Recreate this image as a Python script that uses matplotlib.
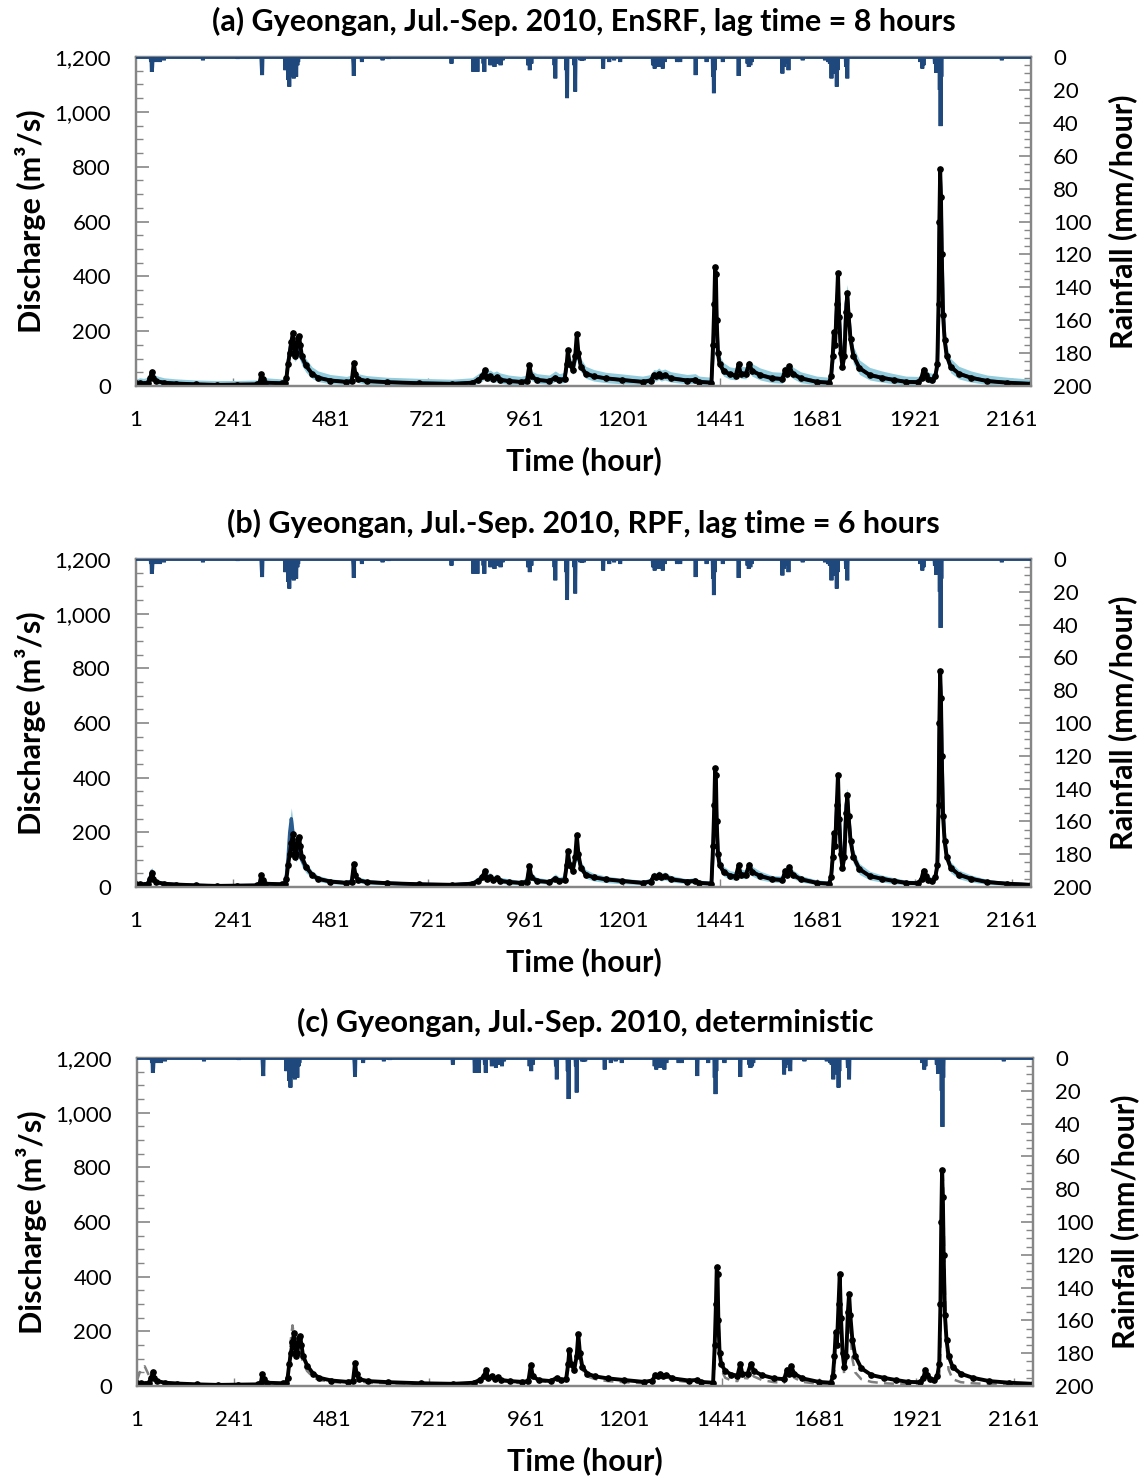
import numpy as np
import matplotlib
matplotlib.use("Agg")
import matplotlib.pyplot as plt
from matplotlib.ticker import MultipleLocator, FuncFormatter

plt.rcParams['font.family'] = ['Lato', 'DejaVu Sans']

# ---------------------------------------------------------------- data
n_hours = 2208
xticks = [1, 241, 481, 721, 961, 1201, 1441, 1681, 1921, 2161]

# hourly rainfall (mm/hour); hours not listed had no rain
rain_hours = [38, 40, 41, 45, 50, 55, 60, 70, 166, 252, 311, 312,
              369, 372, 376, 379, 381, 384, 387, 390, 393, 396, 399, 401,
              537, 538, 558, 609, 624, 779, 833, 836, 840, 843, 858, 860,
              875, 880, 885, 890, 895, 900, 905, 968, 972, 976, 1033, 1035,
              1062, 1064, 1082, 1084, 1097, 1101, 1105, 1153, 1168, 1180, 1195,
              1276, 1280, 1285, 1290, 1295, 1300, 1305, 1335, 1343, 1381, 1408,
              1424, 1426, 1428, 1448, 1487, 1509, 1512, 1516, 1519,
              1595, 1598, 1606, 1610, 1645, 1700, 1708, 1712, 1716, 1720,
              1726, 1729, 1731, 1752, 1755, 1935, 1940, 1943, 1971, 1974,
              1983, 1985, 1987, 2136]
rain_mm = [3, 9, 6, 2, 3, 2, 3, 2, 2, 1, 5, 11,
           8, 5, 14, 18, 10, 12, 6, 13, 9, 12, 5, 3,
           4, 11.5, 3, 2, 1, 4, 9, 9, 7, 9, 4, 9,
           5, 3, 6, 4, 3, 5, 2, 5, 8, 4, 5, 13,
           8, 25, 5, 21, 2, 2, 2, 7, 3, 2, 3,
           5, 7, 4, 6, 3, 7, 3, 3, 3, 11, 3,
           12, 22, 8, 3, 11.5, 4, 6, 5, 3,
           10, 6, 4, 8, 2, 2, 3, 4, 13, 5,
           10, 18, 8, 6, 13, 3, 7, 5, 4, 9.5,
           20, 42, 12, 2]

# discharge (m3/s) at selected hours
hours = [1, 10, 20, 30, 36, 40, 44, 50, 70, 100, 150, 200, 250, 300, 306, 310,
         314, 320, 360, 368, 372, 376, 380, 384, 388, 392, 396, 400, 403, 406,
         410, 420, 435, 450, 480, 520, 533, 538, 542, 548, 570, 620, 700, 780,
         830, 845, 855, 861, 866, 875, 882, 890, 898, 920, 950, 965, 971, 976,
         990, 1020, 1035, 1045, 1058, 1063, 1066, 1070, 1078, 1084, 1088, 1092,
         1098, 1110, 1130, 1160, 1200, 1250, 1270, 1278, 1284, 1290, 1296, 1305,
         1320, 1360, 1380, 1390, 1420, 1424, 1427, 1429, 1431, 1433, 1436, 1440,
         1450, 1465, 1480, 1487, 1492, 1505, 1513, 1520, 1540, 1570, 1595, 1602,
         1606, 1612, 1620, 1640, 1680, 1710, 1715, 1719, 1722, 1725, 1729, 1732,
         1735, 1739, 1743, 1748, 1752, 1755, 1758, 1763, 1770, 1785, 1810, 1840,
         1870, 1900, 1930, 1938, 1943, 1948, 1955, 1965, 1972, 1977, 1980, 1982,
         1984, 1986, 1988, 1991, 1995, 2000, 2010, 2030, 2060, 2100, 2150, 2208]

observed = [12, 10, 9, 12, 30, 52, 30, 18, 12, 9, 6, 4, 5, 6, 12, 44,
            25, 12, 10, 12, 30, 80, 120, 160, 195, 110, 120, 175, 182, 150,
            110, 75, 45, 30, 20, 15, 18, 83, 45, 25, 18, 14, 10, 8,
            12, 22, 35, 58, 30, 35, 25, 32, 22, 18, 15, 18, 77, 35,
            22, 18, 30, 22, 25, 80, 131, 80, 60, 110, 190, 120,
            70, 45, 35, 28, 22, 15, 20, 40, 35, 45, 35, 40,
            28, 20, 22, 15, 12, 150, 300, 434, 410, 240, 120, 80,
            55, 42, 38, 80, 45, 45, 82, 55, 40, 28, 25, 60,
            45, 73, 45, 28, 15, 12, 35, 110, 198, 150, 300, 411,
            250, 120, 70, 110, 270, 338, 260, 170, 110, 65, 40, 30,
            22, 15, 14, 30, 60, 40, 25, 22, 35, 80, 300, 600,
            791, 690, 480, 260, 168, 110, 70, 45, 30, 18, 12, 8]

ensrf_mean = [12, 11, 10, 12, 28, 45, 30, 18, 13, 9, 6, 4, 5, 6, 12, 36,
              24, 13, 10, 14, 35, 85, 130, 165, 150, 120, 125, 140, 135, 120,
              100, 72, 45, 32, 21, 15, 20, 60, 42, 26, 18, 14, 10, 8,
              12, 24, 35, 48, 35, 36, 28, 32, 25, 19, 15, 20, 55, 36,
              23, 18, 32, 24, 28, 70, 100, 85, 62, 95, 130, 110,
              75, 48, 36, 28, 22, 16, 22, 38, 36, 42, 36, 40,
              30, 21, 24, 16, 13, 120, 270, 362, 340, 230, 130, 85,
              58, 44, 40, 65, 48, 46, 70, 58, 42, 30, 27, 52,
              46, 62, 48, 30, 16, 13, 30, 90, 160, 170, 290, 362,
              260, 140, 85, 150, 300, 330, 270, 175, 112, 66, 42, 31,
              23, 16, 15, 28, 50, 40, 28, 24, 34, 70, 250, 540,
              766, 700, 520, 300, 180, 115, 72, 46, 31, 19, 12, 8]
ensrf_low = [5, 3, 2, 4, 15, 30, 18, 8, 4, 2, 1, 0, 0, 1, 4, 22,
             12, 4, 2, 4, 18, 60, 100, 130, 115, 90, 95, 110, 105, 92,
             75, 50, 28, 16, 8, 5, 8, 40, 25, 12, 6, 4, 2, 1,
             3, 10, 18, 30, 18, 18, 12, 15, 10, 6, 4, 8, 36, 20,
             10, 6, 16, 10, 12, 50, 78, 62, 42, 72, 100, 85,
             52, 28, 18, 12, 8, 5, 8, 20, 18, 24, 18, 22,
             14, 8, 10, 5, 4, 90, 230, 320, 300, 195, 100, 60,
             36, 25, 22, 45, 28, 26, 50, 36, 22, 12, 10, 32,
             28, 42, 28, 12, 4, 3, 14, 65, 125, 135, 250, 320,
             220, 105, 55, 115, 260, 290, 232, 140, 82, 42, 22, 14,
             8, 4, 4, 14, 32, 24, 12, 10, 18, 48, 210, 490,
             720, 655, 475, 260, 145, 85, 48, 26, 14, 6, 3, 1]
ensrf_high = [25, 30, 28, 32, 45, 60, 48, 38, 30, 26, 22, 20, 20, 22, 30, 50,
              40, 30, 26, 30, 55, 110, 160, 190, 180, 150, 155, 170, 165, 150,
              128, 100, 70, 55, 42, 35, 40, 78, 60, 45, 38, 32, 28, 25,
              30, 45, 55, 68, 55, 58, 50, 55, 48, 40, 35, 40, 75, 55,
              45, 40, 55, 45, 50, 95, 125, 110, 85, 120, 160, 138,
              100, 72, 60, 50, 44, 36, 42, 60, 58, 66, 58, 62,
              52, 42, 45, 36, 32, 150, 310, 400, 380, 265, 160, 110,
              85, 70, 66, 90, 72, 70, 95, 82, 66, 52, 50, 75,
              68, 85, 70, 52, 36, 32, 52, 118, 195, 205, 330, 400,
              300, 175, 115, 185, 340, 370, 308, 210, 145, 95, 68, 55,
              45, 36, 35, 50, 72, 62, 50, 46, 58, 95, 290, 590,
              810, 745, 565, 340, 215, 148, 100, 72, 55, 40, 32, 25]

rpf_mean = [12, 10, 9, 14, 35, 58, 35, 18, 12, 9, 6, 4, 5, 6, 14, 40,
            26, 12, 10, 15, 45, 110, 200, 250, 200, 130, 120, 145, 135, 118,
            98, 70, 45, 30, 20, 15, 22, 70, 45, 26, 18, 14, 10, 8,
            13, 25, 38, 55, 36, 38, 28, 34, 25, 19, 15, 22, 65, 38,
            24, 18, 34, 24, 30, 80, 110, 88, 62, 100, 125, 108,
            74, 48, 36, 28, 22, 16, 22, 40, 36, 44, 36, 40,
            30, 21, 24, 16, 13, 130, 280, 362, 345, 235, 130, 85,
            58, 44, 40, 70, 50, 46, 75, 58, 42, 30, 28, 56,
            47, 66, 48, 30, 16, 13, 34, 100, 175, 175, 300, 350,
            260, 140, 85, 150, 300, 325, 268, 175, 112, 66, 42, 31,
            23, 16, 15, 30, 52, 42, 28, 24, 36, 75, 260, 550,
            760, 700, 520, 300, 180, 115, 72, 46, 31, 19, 12, 8]
rpf_low = [8, 6, 5, 8, 20, 40, 22, 10, 7, 5, 3, 2, 2, 3, 7, 28,
           16, 6, 5, 8, 28, 80, 160, 210, 165, 100, 92, 115, 108, 92,
           75, 52, 32, 20, 12, 8, 12, 50, 30, 16, 10, 8, 5, 4,
           6, 14, 24, 38, 22, 24, 16, 20, 14, 10, 8, 12, 45, 24,
           14, 10, 20, 14, 18, 60, 85, 66, 45, 78, 98, 84,
           55, 32, 22, 16, 12, 8, 12, 26, 22, 30, 22, 26,
           18, 12, 14, 8, 7, 100, 240, 325, 305, 200, 100, 62,
           40, 28, 25, 50, 32, 30, 55, 40, 26, 18, 16, 38,
           30, 46, 32, 18, 8, 6, 20, 75, 140, 140, 260, 310,
           222, 108, 60, 118, 262, 288, 232, 142, 86, 46, 26, 18,
           12, 8, 8, 18, 36, 28, 16, 14, 22, 55, 220, 500,
           715, 655, 478, 262, 148, 88, 52, 30, 18, 10, 6, 4]
rpf_high = [18, 16, 15, 22, 50, 72, 48, 28, 20, 15, 12, 10, 10, 12, 22, 52,
            36, 20, 16, 24, 65, 140, 240, 290, 240, 165, 150, 175, 165, 145,
            122, 90, 60, 42, 30, 24, 34, 90, 60, 38, 28, 22, 17, 15,
            22, 38, 52, 72, 50, 52, 40, 48, 36, 30, 24, 34, 85, 52,
            35, 28, 48, 36, 44, 102, 135, 110, 80, 125, 152, 132,
            95, 64, 50, 40, 32, 25, 32, 55, 50, 60, 50, 55,
            42, 30, 35, 25, 22, 160, 320, 400, 385, 270, 160, 108,
            76, 60, 56, 90, 66, 62, 95, 76, 58, 42, 40, 74,
            64, 86, 64, 42, 26, 22, 48, 125, 210, 210, 340, 390,
            298, 172, 110, 182, 338, 362, 304, 208, 138, 86, 58, 44,
            34, 25, 24, 44, 70, 58, 40, 36, 52, 98, 300, 600,
            805, 745, 562, 338, 212, 142, 92, 62, 44, 28, 20, 15]

deterministic = [20, 60, 72, 40, 30, 40, 30, 20, 14, 10, 6, 4, 4, 5, 8, 25,
                 20, 10, 8, 10, 25, 90, 170, 222, 180, 120, 130, 150, 140, 110,
                 85, 55, 32, 22, 15, 10, 12, 55, 35, 18, 12, 10, 8, 6,
                 8, 18, 28, 45, 30, 30, 22, 28, 18, 14, 10, 14, 50, 30,
                 18, 14, 28, 18, 20, 60, 100, 75, 50, 110, 150, 100,
                 60, 35, 25, 18, 14, 10, 14, 32, 30, 38, 30, 34,
                 22, 14, 18, 10, 8, 80, 200, 320, 310, 240, 150, 60,
                 30, 20, 18, 45, 30, 28, 55, 35, 22, 14, 12, 40,
                 35, 50, 30, 15, 8, 6, 15, 60, 140, 180, 250, 350,
                 280, 120, 40, 120, 250, 290, 200, 100, 50, 25, 15, 10,
                 8, 6, 6, 20, 45, 35, 18, 14, 25, 40, 120, 420,
                 700, 790, 600, 350, 150, 60, 25, 14, 10, 7, 5, 4]

panel_titles = ["(a) Gyeongan, Jul.-Sep. 2010, EnSRF, lag time = 8 hours",
                "(b) Gyeongan, Jul.-Sep. 2010, RPF, lag time = 6 hours",
                "(c) Gyeongan, Jul.-Sep. 2010, deterministic"]

# ---------------------------------------------------------------- style
RAIN_C = "#1f497d"
MEAN_C = "#2a5b8e"
BAND_C = "#93cddd"
DET_C = "#7f7f7f"
SPINE_C = "#868686"

rain = np.zeros(n_hours)
rain[np.array(rain_hours) - 1] = rain_mm
rain_t = np.arange(1, n_hours + 1)

fig = plt.figure(figsize=(11.48, 14.8), dpi=100)
W, H = 1148.0, 1480.0
boxes = [(136, 57, 1031, 386), (136, 559, 1031, 887), (137, 1058, 1033, 1386)]

series = [(ensrf_mean, ensrf_low, ensrf_high), (rpf_mean, rpf_low, rpf_high), None]

for i, (l, t, r, b) in enumerate(boxes):
    ax = fig.add_axes([l / W, 1 - b / H, (r - l) / W, (b - t) / H])
    ax2 = ax.twinx()

    if series[i] is not None:
        mean, lo, hi = series[i]
        ax.fill_between(hours, lo, hi, color=BAND_C, lw=0, zorder=2)
        ax.plot(hours, mean, color=MEAN_C, lw=2.4, zorder=3)
    else:
        ax.plot(hours, deterministic, color=DET_C, lw=1.8,
                dashes=(4, 2.5), zorder=3)

    ax.plot(hours, observed, color="black", lw=2.8, zorder=5,
            solid_capstyle="round", solid_joinstyle="round")
    ax.plot(hours, observed, "o", color="black", ms=3.8, zorder=6)

    ax2.plot(rain_t, rain, color=RAIN_C, lw=2.8, zorder=4,
             solid_joinstyle="miter")

    ax.set_xlim(1, n_hours)
    ax.set_ylim(0, 1200)
    ax2.set_ylim(200, 0)

    ax.set_xticks(xticks)
    ax.yaxis.set_major_locator(MultipleLocator(200))
    ax.yaxis.set_minor_locator(MultipleLocator(50))
    ax.yaxis.set_major_formatter(FuncFormatter(lambda v, p: f"{int(v):,}"))
    ax2.yaxis.set_major_locator(MultipleLocator(20))
    ax2.yaxis.set_minor_locator(MultipleLocator(5))

    ax.tick_params(axis="both", which="both", direction="in", colors=SPINE_C,
                   labelcolor="black", labelsize=16)
    ax.tick_params(axis="y", which="major", length=9, width=1.2, pad=18)
    ax.tick_params(axis="y", which="minor", length=5, width=1.0)
    ax.tick_params(axis="x", which="major", length=6, width=1.0, pad=17)
    ax2.tick_params(axis="y", which="both", direction="in", colors=SPINE_C,
                    labelcolor="black", labelsize=16)
    ax2.tick_params(axis="y", which="major", length=9, width=1.2, pad=16)
    ax2.tick_params(axis="y", which="minor", length=5, width=1.0)
    for a in (ax, ax2):
        for s in a.spines.values():
            s.set_color(SPINE_C)
            s.set_linewidth(1.6)

    ax.set_title(panel_titles[i], fontsize=22, fontweight="bold", pad=19)
    ax.set_xlabel("Time (hour)", fontsize=22, fontweight="bold", labelpad=12)
    ax.set_ylabel("Discharge (m³/s)", fontsize=22, fontweight="bold", labelpad=6)
    ax2.set_ylabel("Rainfall (mm/hour)", fontsize=22, fontweight="bold",
                   labelpad=12)

fig.savefig("out.png", dpi=100)
